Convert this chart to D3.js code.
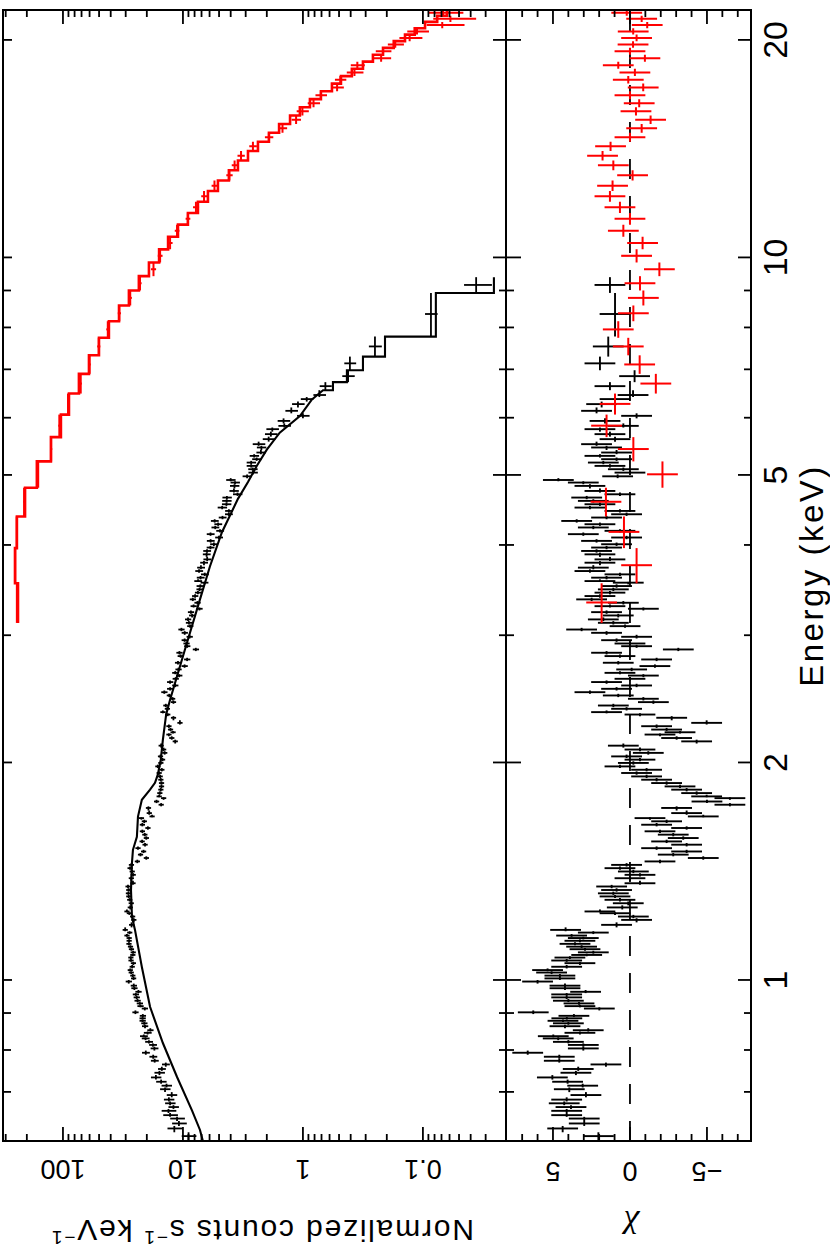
<!DOCTYPE html>
<html>
<head>
<meta charset="utf-8">
<script src="https://cdnjs.cloudflare.com/ajax/libs/d3/7.8.5/d3.min.js"></script>
<style>
body { margin: 0; background: #fff; }
svg { display: block; }
text { font-family: "Liberation Sans", Arial, Helvetica, sans-serif; fill: #000; }
</style>
</head>
<body>
<div id="chart"></div>
<script>
// ---- black spectrum, fine bins (keV centre, residual chi, normalized counts) ----
var blackE = [0.608,0.623,0.633,0.643,0.650,0.659,0.667,0.675,0.683,0.693,
  0.706,0.714,0.723,0.733,0.744,0.753,0.764,0.773,0.783,0.793,
  0.804,0.813,0.821,0.830,0.836,0.845,0.852,0.863,0.871,0.878,
  0.885,0.892,0.902,0.913,0.920,0.928,0.936,0.946,0.955,0.963,
  0.974,0.982,0.995,1.005,1.014,1.024,1.032,1.043,1.055,1.064,
  1.074,1.083,1.092,1.103,1.112,1.122,1.133,1.143,1.152,1.163,
  1.173,1.192,1.211,1.224,1.237,1.244,1.260,1.277,1.291,1.305,
  1.318,1.332,1.347,1.361,1.383,1.398,1.413,1.428,1.443,1.459,
  1.475,1.491,1.506,1.522,1.539,1.555,1.572,1.589,1.606,1.623,
  1.640,1.658,1.675,1.684,1.702,1.730,1.748,1.766,1.785,1.795,
  1.814,1.834,1.853,1.873,1.893,1.913,1.934,1.954,1.975,1.997,
  2.018,2.039,2.062,2.084,2.110,2.139,2.162,2.186,2.202,2.221,
  2.245,2.269,2.306,2.330,2.348,2.373,2.398,2.424,2.450,2.476,
  2.502,2.529,2.556,2.584,2.611,2.638,2.661,2.690,2.719,2.748,
  2.777,2.807,2.837,2.867,2.897,2.922,2.953,2.985,3.023,3.055,
  3.088,3.121,3.155,3.195,3.229,3.264,3.291,3.327,3.363,3.399,
  3.436,3.472,3.509,3.547,3.565,3.604,3.642,3.681,3.721,3.780,
  3.820,3.882,3.924,3.967,4.009,4.052,4.096,4.140,4.184,4.229,
  4.273,4.318,4.365,4.411,4.458,4.506,4.554,4.603,4.652,4.701,
  4.751,4.828,4.880,4.920,4.978,5.037,5.092,5.146,5.201,5.257,
  5.313,5.370,5.457,5.515,5.604,5.694,5.785,5.846,5.939,6.036,
  6.133,6.266,6.367,6.450];
var blackChi = [2.05,4.37,2.97,2.97,4.11,4.11,3.83,4.27,4.11,2.86,
  3.94,3.07,4.05,5.04,3.51,3.36,1.56,4.59,4.59,6.64,
  3.03,3.03,4.0,4.66,4.98,3.25,2.71,4.22,4.0,4.35,
  4.1,3.64,6.28,1.99,3.25,3.31,4.0,4.11,4.11,2.88,
  4.22,4.22,6.0,4.55,4.55,5.09,5.35,4.11,3.25,4.11,
  3.90,2.81,2.38,2.92,3.14,3.57,3.25,3.03,3.79,2.38,
  4.18,0.87,-0.43,-0.22,0.97,1.95,0.5,0.11,0.65,0.97,
  1.08,0.87,1.19,-0.65,0.0,-0.65,-0.22,0.65,0.22,-1.95,
  -4.76,-2.81,-3.68,-1.73,-3.68,-2.38,-3.46,-2.81,-1.95,-3.68,
  -1.73,-2.38,-1.30,-4.76,-3.68,-3.03,-6.49,-5.0,-6.49,-4.98,
  -4.33,-3.68,-3.25,-2.38,-1.73,-1.08,-0.43,-1.08,0.65,-0.22,
  -0.65,0.22,-1.19,-0.65,0.43,-4.33,-3.03,-1.95,-3.25,-2.38,
  -1.73,-4.98,-2.71,-0.65,1.52,0.22,1.08,-1.52,-0.87,0.76,
  2.60,0.87,-0.43,1.52,0.0,-0.87,0.65,-0.11,-1.62,0.76,
  -1.73,0.65,1.52,-3.14,-0.43,0.0,0.87,-0.43,1.52,3.14,
  0.32,1.08,1.73,0.76,1.52,-0.87,1.30,0.43,2.49,1.95,
  1.30,1.08,0.87,0.11,1.95,1.52,0.65,2.60,2.38,1.95,
  1.30,1.95,2.17,1.52,0.87,2.17,0.22,3.03,0.65,2.38,
  1.95,3.46,1.52,0.22,0.65,2.60,1.95,2.38,2.81,0.65,
  1.95,2.60,3.03,4.65,0.8,0.0,0.43,1.30,1.73,0.87,
  1.95,0.87,1.52,2.17,0.97,1.30,1.95,0.43,1.62,-0.43,
  2.17,1.84,0.97,-0.2];
var blackCts = [8.98,11.8,10.8,11.2,12.8,13.2,12.0,12.8,13.1,12.4,
  14.1,13.7,15.2,16.8,15.7,15.0,13.9,17.2,17.7,20.4,
  17.3,17.8,19.2,20.5,21.2,19.7,18.7,20.7,21.0,21.7,
  21.7,21.6,24.9,20.8,22.6,22.9,23.9,24.3,24.7,23.5,
  25.4,25.7,28.3,25.8,26.2,27.0,27.5,26.5,25.9,27.1,
  27.2,26.2,26.0,26.9,27.4,28.2,28.1,28.1,29.3,27.8,
  30.3,26.8,25.7,26.3,28.0,29.3,27.5,27.0,27.8,28.3,
  28.5,28.3,28.7,26.1,26.95,26.0,26.5,27.6,26.9,24.0,
  20.2,22.6,21.3,23.7,20.7,21.9,20.2,20.8,21.8,19.6,
  21.8,21.0,22.2,18.1,19.1,19.4,15.2,16.6,14.5,15.8,
  15.6,15.3,15.1,15.1,15.3,15.5,15.8,15.0,16.2,15.3,
  14.8,15.4,14.2,14.5,15.2,11.6,12.4,13.1,12.1,12.7,
  13.1,10.6,12.0,13.4,14.7,13.5,13.9,12.0,12.2,13.0,
  14.3,12.8,11.6,12.8,11.5,10.75,11.6,10.9,9.69,11.0,
  9.23,10.45,10.7,7.81,9.22,9.35,9.68,8.8,9.67,10.3,
  8.7,8.92,9.07,8.39,8.58,7.29,8.15,7.57,8.28,7.92,
  7.5,7.28,7.16,6.63,7.48,7.13,6.58,7.34,7.08,6.68,
  6.28,6.35,6.3,5.9,5.52,5.88,5.01,5.89,4.91,5.38,
  5.09,5.44,4.68,4.15,4.14,4.71,4.34,4.32,4.3,3.51,
  3.76,3.72,3.68,4.0,2.92,2.61,2.62,2.7,2.7,2.43,
  2.55,2.24,2.22,2.34,1.93,1.85,1.8,1.43,1.45,1.0,
  1.25,1.1,0.93,0.73];
// fractional 1-sigma size of the black count bars, by energy band (upper edge keV)
var errBandTop = [0.66, 0.75, 0.85, 1.0, 2.5, 3.5, 4.5, 5.5, 7.0];
var errBandFrac = [0.14, 0.10, 0.075, 0.06, 0.05, 0.06, 0.075, 0.09, 0.12];

// black spectrum, wide bins at the top end
var wideLo = [6.55, 6.72, 6.98, 7.29, 7.77, 8.93];
var wideHi = [6.72, 6.98, 7.29, 7.77, 8.93, 9.39];
var wideMod = [0.562, 0.430, 0.316, 0.207, 0.078, 0.0256];
var wideCts = [0.65, 0.42, 0.406, 0.251, 0.0857, 0.036];
var wideErr = [0.075, 0.05, 0.046, 0.031, 0.0103, 0.0094];
var wideChi = [1.3, -0.3, 1.95, 1.41, 0.97, 1.3];

// black model curve over the fine bins
var modelE = [0.598,0.620,0.660,0.734,0.818,0.918,1.042,1.173,1.223,1.332,1.453,1.514,1.578,1.683,
  1.776,1.834,1.874,1.924,2.018,2.150,2.331,2.443,2.866,3.363,3.735,4.166,4.633,4.887,5.149,5.42,
  5.72,6.03,6.36,6.55];
var modelC = [6.81,7.21,8.41,11.2,14.7,18.8,22.0,25.1,26.6,27.1,26.6,26.1,24.2,23.7,
  22.0,18.8,17.1,16.2,15.3,14.7,13.8,12.8,9.62,7.21,5.96,4.73,3.48,2.87,2.42,2.0,
  1.56,1.06,0.841,0.68];

// ---- red spectrum (bin centres, half width 0.21 keV) ----
var redE = [3.33,3.75,4.17,4.59,5.01,5.43,5.85,6.27,6.69,7.11,7.53,7.95,8.37,8.79,9.21,
  9.63,10.05,10.47,10.89,11.31,11.73,12.15,12.57,12.99,13.41,13.83,14.25,14.67,15.09,15.51,
  15.93,16.35,16.77,17.19,17.61,18.03,18.45,18.87,19.29,19.71,20.13,20.55,20.97,21.39,21.81];
var redHalf = 0.21;
var redMod = [237,251,242,207,165,126,104,89.1,73.6,60.7,50.1,41.4,34.1,28.2,23.3,
  19.2,15.8,13.3,11.0,9.09,7.5,6.19,5.11,4.14,3.48,2.87,2.37,1.92,1.58,1.28,
  1.06,0.874,0.708,0.573,0.482,0.391,0.316,0.261,0.215,0.175,0.141,0.117,0.096,0.076,0.063];
var redCts = [242.2,249.7,243.1,210.9,160.8,125.4,107.2,90.8,71.1,59.9,50.3,42.3,33.9,27.5,22.8,
  17.6,15.5,12.8,11.2,9.09,7.79,6.67,5.46,4.10,3.71,3.28,2.61,1.92,1.48,1.14,
  1.01,0.816,0.708,0.519,0.488,0.372,0.352,0.223,0.215,0.170,0.129,0.112,0.069,0.059,0.068];
var redErr = [2.84,3.01,2.9,2.48,1.98,2.52,2.08,1.78,1.47,1.21,1.5,1.24,1.02,0.85,0.70,
  0.86,0.71,0.60,0.50,0.41,0.45,0.37,0.31,0.25,0.21,0.23,0.19,0.154,0.126,0.102,
  0.117,0.096,0.078,0.063,0.053,0.059,0.047,0.039,0.032,0.026,0.028,0.023,0.024,0.023,0.022];
var redChi = [1.84,-0.43,0.39,1.56,-2.11,-0.22,1.52,0.97,-1.68,-0.63,0.11,0.76,-0.22,-0.87,-0.65,
  -1.91,-0.43,-0.82,0.43,0.0,0.65,1.3,1.13,-0.17,1.08,1.78,1.26,0.0,-0.76,-1.34,
  -0.39,-0.6,0.0,-0.86,0.11,-0.32,0.76,-0.97,0.0,-0.2,-0.43,-0.21,-1.12,-0.76,0.21];

// ---- axes ----
var energyMajor = [1, 2, 5, 10, 20];
var energyLabels = ['1', '2', '5', '10', '20'];
var energyMinor = [0.7, 0.8, 0.9, 3, 4, 6, 7, 8, 9];
var countMajor = [0.1, 1, 10, 100];
var countLabels = ['0.1', '1', '10', '100'];
var countMinor = [0.03,0.04,0.05,0.06,0.07,0.08,0.09,0.2,0.3,0.4,0.5,0.6,0.7,0.8,0.9,
  2,3,4,5,6,7,8,9,20,30,40,50,60,70,80,90,200,300];
var chiMajor = [-5, 0, 5];
var chiLabels = ['\u22125', '0', '5'];
var chiMinor = [-7,-6,-4,-3,-2,-1,1,2,3,4,6,7];

var W = 830, H = 1249;
var svg = d3.select('#chart').append('svg').attr('width', W).attr('height', H);
// the plot is laid out in landscape and turned a quarter turn
var g = svg.append('g').attr('transform', 'translate(0,' + H + ') rotate(-90)');

var x0 = 108, x1 = 1239, yT0 = 3, yMid = 506, yB1 = 751;
var x = d3.scaleLog().domain([0.5986, 22.0]).range([x0, x1]);
var yTop = d3.scaleLog().domain([316, 0.0203]).range([yT0, yMid]);
var yRes = d3.scaleLinear().domain([8.05, -7.86]).range([yMid, yB1]);

var defs = svg.append('defs');
defs.append('clipPath').attr('id', 'clipTop').append('rect')
  .attr('x', x0).attr('y', yT0).attr('width', x1 - x0).attr('height', yMid - yT0);
defs.append('clipPath').attr('id', 'clipRes').append('rect')
  .attr('x', x0).attr('y', yMid).attr('width', x1 - x0).attr('height', yB1 - yMid);

function bandFrac(e) {
  for (var i = 0; i < errBandTop.length; i++) if (e <= errBandTop[i]) return errBandFrac[i];
  return errBandFrac[errBandFrac.length - 1];
}

// bins
var blackBins = blackE.map(function(e, i) {
  var lo = i === 0 ? e - (blackE[1] - e) / 2 : (blackE[i - 1] + e) / 2;
  var hi = i === blackE.length - 1 ? wideLo[0] : (e + blackE[i + 1]) / 2;
  return { e: e, lo: lo, hi: hi, v: blackCts[i], err: blackCts[i] * bandFrac(e), chi: blackChi[i] };
});
wideLo.forEach(function(lo, i) {
  blackBins.push({ e: (lo + wideHi[i]) / 2, lo: lo, hi: wideHi[i], v: wideCts[i], err: wideErr[i], chi: wideChi[i] });
});
var redBins = redE.map(function(e, i) {
  return { e: e, lo: e - redHalf, hi: e + redHalf, v: redCts[i], err: redErr[i], chi: redChi[i], m: redMod[i] };
});

var topG = g.append('g').attr('clip-path', 'url(#clipTop)');
var resG = g.append('g').attr('clip-path', 'url(#clipRes)');

// one cross per bin: energy bar at the value, error bar at the bin centre
function crosses(parent, bins, yScale, valueOf, errOf, floor, color, w) {
  var gg = parent.append('g').attr('stroke', color).attr('stroke-width', w).attr('fill', 'none');
  gg.selectAll('line.eb').data(bins).enter().append('line')
    .attr('x1', function(d) { return x(d.lo); })
    .attr('x2', function(d) { return x(d.hi); })
    .attr('y1', function(d) { return yScale(valueOf(d)); })
    .attr('y2', function(d) { return yScale(valueOf(d)); });
  gg.selectAll('line.vb').data(bins).enter().append('line')
    .attr('x1', function(d) { return x(d.e); })
    .attr('x2', function(d) { return x(d.e); })
    .attr('y1', function(d) { return yScale(Math.max(valueOf(d) - errOf(d), floor)); })
    .attr('y2', function(d) { return yScale(valueOf(d) + errOf(d)); });
}

var line = d3.line().x(function(d) { return x(d[0]); }).y(function(d) { return yTop(d[1]); });

// red model steps
var redSteps = [];
redBins.forEach(function(d) { redSteps.push([d.lo, d.m]); redSteps.push([d.hi, d.m]); });
topG.append('path').attr('d', line(redSteps)).attr('fill', 'none')
  .attr('stroke', '#ff0000').attr('stroke-width', 2.6);

// black model
var blackPts = modelE.map(function(e, i) { return [e, modelC[i]]; });
wideLo.forEach(function(lo, i) { blackPts.push([lo, wideMod[i]]); blackPts.push([wideHi[i], wideMod[i]]); });
topG.append('path').attr('d', line(blackPts)).attr('fill', 'none')
  .attr('stroke', '#000').attr('stroke-width', 2.1);

crosses(topG, blackBins, yTop, function(d) { return d.v; }, function(d) { return d.err; }, 1e-4, '#000', 1.8);
crosses(topG, redBins, yTop, function(d) { return d.v; }, function(d) { return d.err; }, 1e-4, '#ff0000', 2);

// residuals
resG.append('line').attr('x1', x0).attr('x2', x1).attr('y1', yRes(0)).attr('y2', yRes(0))
  .attr('stroke', '#000').attr('stroke-width', 1.8).attr('stroke-dasharray', '20,17');
crosses(resG, blackBins, yRes, function(d) { return d.chi; }, function() { return 1; }, -100, '#000', 1.9);
crosses(resG, redBins, yRes, function(d) { return d.chi; }, function() { return 1; }, -100, '#ff0000', 2);

// frames
var frame = g.append('g').attr('fill', 'none').attr('stroke', '#000').attr('stroke-width', 2);
frame.append('rect').attr('x', x0).attr('y', yT0).attr('width', x1 - x0).attr('height', yMid - yT0);
frame.append('rect').attr('x', x0).attr('y', yMid).attr('width', x1 - x0).attr('height', yB1 - yMid);

var ticks = g.append('g').attr('stroke', '#000').attr('stroke-width', 1.8);
function eTicks(edge, dir, lenMaj, lenMin) {
  energyMajor.forEach(function(e) {
    ticks.append('line').attr('x1', x(e)).attr('x2', x(e)).attr('y1', edge).attr('y2', edge + dir * lenMaj);
  });
  energyMinor.forEach(function(e) {
    ticks.append('line').attr('x1', x(e)).attr('x2', x(e)).attr('y1', edge).attr('y2', edge + dir * lenMin);
  });
}
eTicks(yT0, 1, 9, 8);
eTicks(yMid, -1, 13, 7);
eTicks(yMid, 1, 15, 8);
eTicks(yB1, -1, 13, 7);

function vTicks(scale, major, minor) {
  [[x0, 1], [x1, -1]].forEach(function(s) {
    major.forEach(function(v) {
      ticks.append('line').attr('y1', scale(v)).attr('y2', scale(v)).attr('x1', s[0]).attr('x2', s[0] + s[1] * 14);
    });
    minor.forEach(function(v) {
      ticks.append('line').attr('y1', scale(v)).attr('y2', scale(v)).attr('x1', s[0]).attr('x2', s[0] + s[1] * 7);
    });
  });
}
vTicks(yTop, countMajor, countMinor);
vTicks(yRes, chiMajor, chiMinor);

// labels
var lab = g.append('g');
energyMajor.forEach(function(e, i) {
  lab.append('text').attr('x', x(e)).attr('y', 787).attr('text-anchor', 'middle')
    .style('font-size', '34px').text(energyLabels[i]);
});
countMajor.forEach(function(v, i) {
  lab.append('text').attr('transform', 'translate(89,' + yTop(v) + ') rotate(-90)')
    .attr('text-anchor', 'middle').style('font-size', '27px').text(countLabels[i]);
});
chiMajor.forEach(function(v, i) {
  lab.append('text').attr('transform', 'translate(87,' + yRes(v) + ') rotate(-90)')
    .attr('text-anchor', 'middle').style('font-size', '27px').text(chiLabels[i]);
});
lab.append('text').attr('x', (x0 + x1) / 2).attr('y', 823).attr('text-anchor', 'middle')
  .style('font-size', '33px').style('letter-spacing', '2.5px').text('Energy (keV)');
var yt = lab.append('text').attr('transform', 'translate(29,262) rotate(-90)')
  .attr('text-anchor', 'middle').style('font-size', '30px').style('letter-spacing', '1.8px');
yt.append('tspan').text('Normalized counts s');
yt.append('tspan').attr('dy', -11).style('font-size', '19px').text('\u22121');
yt.append('tspan').attr('dy', 11).text(' keV');
yt.append('tspan').attr('dy', -11).style('font-size', '19px').text('\u22121');
lab.append('text').attr('transform', 'translate(31,' + yRes(0) + ') rotate(-90)')
  .attr('text-anchor', 'middle').style('font-family', '"Liberation Serif", "DejaVu Serif", serif')
  .style('font-style', 'italic').style('font-size', '34px').text('\u03c7');
</script>
</body>
</html>
